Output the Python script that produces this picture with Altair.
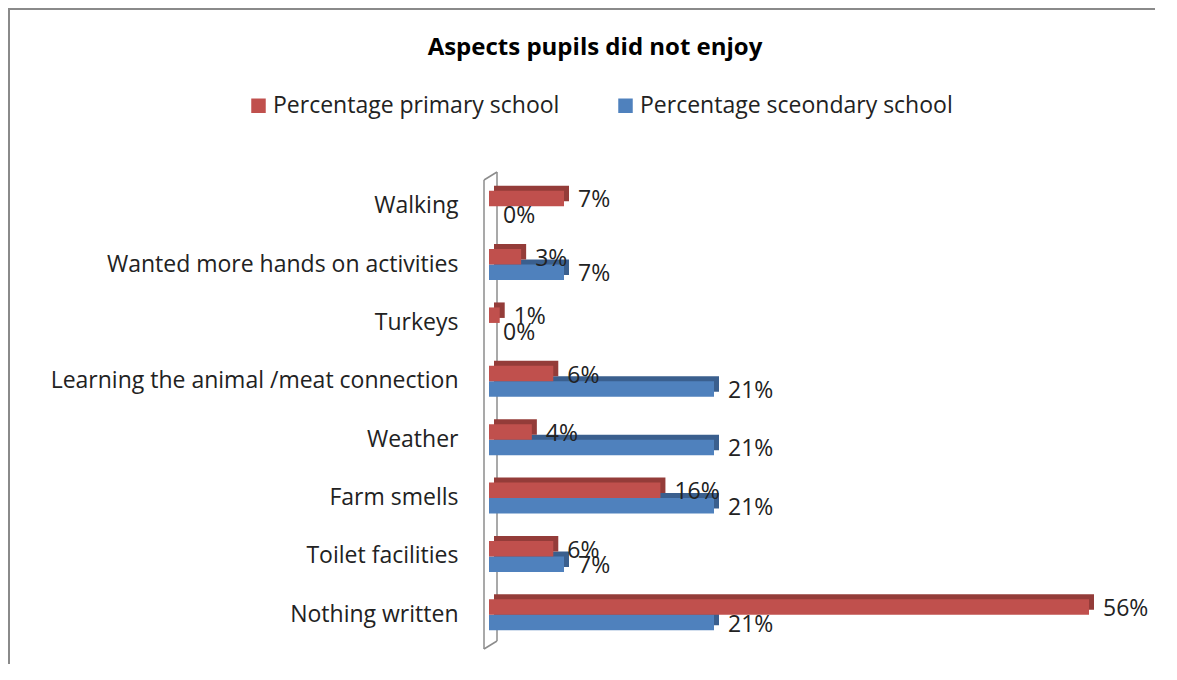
import altair as alt
import pandas as pd

FONT = "Open Sans"

categories = [
    "Walking",
    "Wanted more hands on activities",
    "Turkeys",
    "Learning the animal /meat connection",
    "Weather",
    "Farm smells",
    "Toilet facilities",
    "Nothing written",
]
primary = [7, 3, 1, 6, 4, 16, 6, 56]
secondary = [0, 7, 0, 21, 21, 21, 7, 21]
series_names = ["Percentage primary school", "Percentage sceondary school"]
colors = ["#C0504D", "#4F81BD"]
shade_colors = ["#943C39", "#3A5F8E"]

rows = []
for c, p, s in zip(categories, primary, secondary):
    rows.append({"cat": c, "series": series_names[0], "value": p, "label": f"{p}%"})
    rows.append({"cat": c, "series": series_names[1], "value": s, "label": f"{s}%"})
df = pd.DataFrame(rows)

W, H = 600, 467
PAD = {"left": 481, "top": 169, "right": 66, "bottom": 20}
BAR_H = 15.5
DEPTH = 5
SHIFT = [-BAR_H / 2, BAR_H / 2]  # red above, blue below the category centre

base = alt.Chart(df).encode(
    y=alt.Y(
        "cat:N",
        sort=categories,
        scale=alt.Scale(paddingInner=0, paddingOuter=0),
        axis=alt.Axis(
            title=None, domain=False, ticks=False, tickSize=0, labelPadding=31,
            labelFontSize=23, labelFont=FONT, labelColor="#222222", labelLimit=0,
        ),
    ),
)
x_enc = alt.X("value:Q", scale=alt.Scale(domain=[0, 56], nice=False, zero=True), axis=None)
color_enc = alt.Color(
    "series:N",
    scale=alt.Scale(domain=series_names, range=colors),
    legend=alt.Legend(
        orient="none", legendX=-242, legendY=-83, direction="horizontal", title=None,
        symbolType="square", symbolSize=210, symbolStrokeWidth=0,
        labelFontSize=23, labelFont=FONT, labelColor="#222222", labelLimit=0,
        columnPadding=54, labelOffset=3, padding=0,
    ),
)


def seg(x1, y1, x2, y2, color="#8c8c8c", w=1.5):
    return alt.Chart(alt.Data(values=[{"k": 0}])).mark_rule(color=color, strokeWidth=w).encode(
        x=alt.value(x1), y=alt.value(y1), x2=alt.value(x2), y2=alt.value(y2)
    )


frame = [
    seg(-480, -168, -480, H + PAD["bottom"], color="#8a8a8a", w=2),
    seg(-481, -168, W + PAD["right"], -168, color="#8a8a8a", w=2),
]
wall = [
    seg(-5, 3, -5, 472),
    seg(8, -5, 8, 464),
    seg(-5, 3, 8, -5),
    seg(-5, 472, 8, 464),
]

title = alt.Chart(alt.Data(values=[{"t": "Aspects pupils did not enjoy"}])).mark_text(
    align="center", baseline="middle", fontSize=24, font=FONT, fontWeight="bold", color="#000000"
).encode(x=alt.value(106), y=alt.value(-129), text="t:N")


def shadow(i):
    return base.transform_filter(alt.datum.series == series_names[i]).mark_bar(
        color=shade_colors[i], height=BAR_H, xOffset=DEPTH, x2Offset=2, yOffset=SHIFT[i] - DEPTH
    ).encode(x=x_enc)


def front(i):
    return base.transform_filter(alt.datum.series == series_names[i]).mark_bar(
        height=BAR_H, yOffset=SHIFT[i]
    ).encode(x=x_enc, color=color_enc)


def labels(i):
    return base.transform_filter(alt.datum.series == series_names[i]).mark_text(
        align="left", baseline="middle", dx=14, dy=SHIFT[i] + 2, fontSize=23, font=FONT,
        color="#222222"
    ).encode(x=x_enc, text="label:N")


chart = alt.layer(
    *frame, *wall,
    shadow(1), front(1), shadow(0), front(0),
    labels(1), labels(0), title,
).properties(
    width=W, height=H, padding=PAD, autosize="none", background="white",
).configure_view(stroke=None)

chart.save("out.html", embed_options={"renderer": "svg", "actions": False})
